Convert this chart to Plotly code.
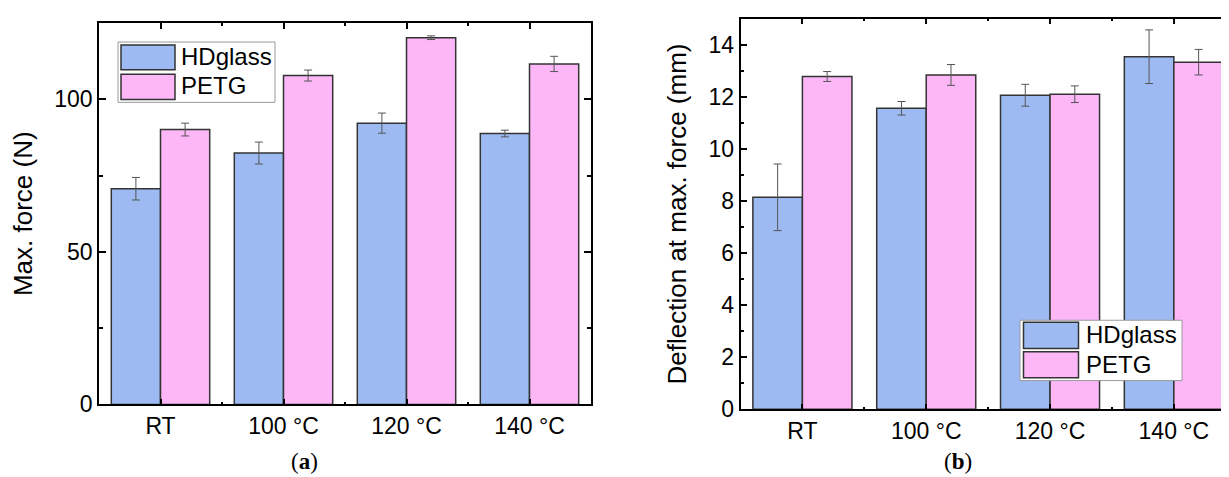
import plotly.graph_objects as go

# ---------------- data ----------------
categories = ["RT", "100 °C", "120 °C", "140 °C"]
series_names = ["HDglass", "PETG"]

force_hdglass = [70.7, 82.4, 92.2, 88.8]
force_hdglass_err = [3.7, 3.6, 3.3, 1.1]
force_petg = [90.1, 107.8, 120.2, 111.6]
force_petg_err = [2.1, 1.8, 0.6, 2.5]

defl_hdglass = [8.14, 11.56, 12.06, 13.54]
defl_hdglass_err = [1.28, 0.26, 0.42, 1.03]
defl_petg = [12.78, 12.84, 12.10, 13.33]
defl_petg_err = [0.19, 0.40, 0.32, 0.49]

force_ticks = [0, 50, 100]
defl_ticks = [0, 2, 4, 6, 8, 10, 12, 14]

# ---------------- style ----------------
W, H = 1229, 477
BLUE = "#9dbbf2"
PINK = "#fdb7f7"
EDGE = "#333333"
ERR = "#555555"
FONT = "Liberation Sans, Arial, sans-serif"
SERIF = "Liberation Serif, Times New Roman, serif"

xpos = list(range(len(categories)))
minor_x = [i + 0.5 for i in xpos[:-1]]


def px(x):
    return x / W


def py(y):
    return 1 - y / H


fig = go.Figure()


def add_bars(xaxis, yaxis, vals, errs, color, name):
    fig.add_trace(go.Bar(
        x=xpos, y=vals, name=name, xaxis=xaxis, yaxis=yaxis,
        marker=dict(color=color, line=dict(color=EDGE, width=1.5)),
        error_y=dict(type="data", array=errs, color=ERR, thickness=1, width=4),
        showlegend=False,
    ))


add_bars("x", "y", force_hdglass, force_hdglass_err, BLUE, series_names[0])
add_bars("x", "y", force_petg, force_petg_err, PINK, series_names[1])
add_bars("x2", "y2", defl_hdglass, defl_hdglass_err, BLUE, series_names[0])
add_bars("x2", "y2", defl_petg, defl_petg_err, PINK, series_names[1])
# empty trace so the right-hand tick-only axis of panel (b) is drawn
fig.add_trace(go.Scatter(x=[], y=[], xaxis="x2", yaxis="y3", showlegend=False, hoverinfo="skip"))

common_axis = dict(
    showline=True, linecolor="black", linewidth=1.5, mirror="ticks",
    ticks="inside", tickcolor="black", tickwidth=1.5,
    showgrid=False, zeroline=False,
    tickfont=dict(family=FONT, size=23, color="black"),
)

xaxis_common = dict(
    common_axis, tickvals=xpos, ticktext=categories, ticklen=6,
    minor=dict(tickvals=minor_x, ticks="inside", ticklen=3, tickwidth=1.5, tickcolor="black"),
    fixedrange=True,
)

y2_domain = [py(412.5), py(11)]

fig.update_layout(
    width=W, height=H,
    margin=dict(l=0, r=0, t=0, b=0),
    paper_bgcolor="white", plot_bgcolor="white",
    barmode="group", bargap=0.2, bargroupgap=0,
    font=dict(family=FONT, color="black"),
    xaxis=dict(xaxis_common, domain=[px(91), px(583)], range=[-0.5, 3.5], anchor="y"),
    yaxis=dict(
        common_axis, domain=[py(407.5), py(15.5)], range=[0, 125], anchor="x",
        tickvals=force_ticks, ticklen=7,
        minor=dict(dtick=25, ticks="inside", ticklen=4, tickwidth=1.5, tickcolor="black"),
        title=dict(text="Max. force (N)", font=dict(family=FONT, size=26), standoff=14),
    ),
    xaxis2=dict(xaxis_common, domain=[px(732.5), 1.0], range=[-0.5, 3.51], anchor="y2"),
    yaxis2=dict(
        common_axis, mirror=False, domain=y2_domain, range=[0, 15], anchor="x2",
        tickvals=defl_ticks, ticklen=7,
        minor=dict(dtick=1, ticks="inside", ticklen=4, tickwidth=1.5, tickcolor="black"),
        title=dict(text="Deflection at max. force (mm)", font=dict(family=FONT, size=26), standoff=14),
    ),
    yaxis3=dict(
        overlaying="y2", side="right", anchor="x2", range=[0, 15], domain=y2_domain,
        showline=False, showgrid=False, zeroline=False, showticklabels=False,
        ticks="inside", tickcolor="black", tickwidth=1.5, ticklen=7,
        tickvals=defl_ticks,
        minor=dict(dtick=1, ticks="inside", ticklen=4, tickwidth=1.5, tickcolor="black"),
    ),
)

# ---------------- custom legends ----------------
def legend(box, sw_x, sw_rows, text_x, text_rows):
    x0, y0, x1, y1 = box
    fig.add_shape(type="rect", xref="paper", yref="paper",
                  x0=px(x0), x1=px(x1), y0=py(y1), y1=py(y0),
                  fillcolor="white", line=dict(color="#9a9a9a", width=1))
    for (ya, yb), color in zip(sw_rows, [BLUE, PINK]):
        fig.add_shape(type="rect", xref="paper", yref="paper",
                      x0=px(sw_x[0]), x1=px(sw_x[1]), y0=py(yb), y1=py(ya),
                      fillcolor=color, line=dict(color=EDGE, width=1.5))
    for yc, name in zip(text_rows, series_names):
        fig.add_annotation(x=px(text_x), y=py(yc), xref="paper", yref="paper",
                           text=name, showarrow=False, xanchor="left", yanchor="middle",
                           font=dict(family=FONT, size=24, color="black"))


legend((110, 35, 267, 97), (113, 167), [(38, 63.5), (68, 94)], 171, [50, 80])
legend((1012, 321, 1174, 383), (1015.5, 1070.5), [(323, 350), (353.5, 380)], 1076, [336, 366])

# ---------------- panel captions ----------------
for xc, letter in [(296, "a"), (950, "b")]:
    fig.add_annotation(x=px(xc), y=py(466), xref="paper", yref="paper",
                       text=f"(<b>{letter}</b>)", showarrow=False,
                       xanchor="center", yanchor="middle",
                       font=dict(family=SERIF, size=23, color="black"))

fig.write_html("out.html")
